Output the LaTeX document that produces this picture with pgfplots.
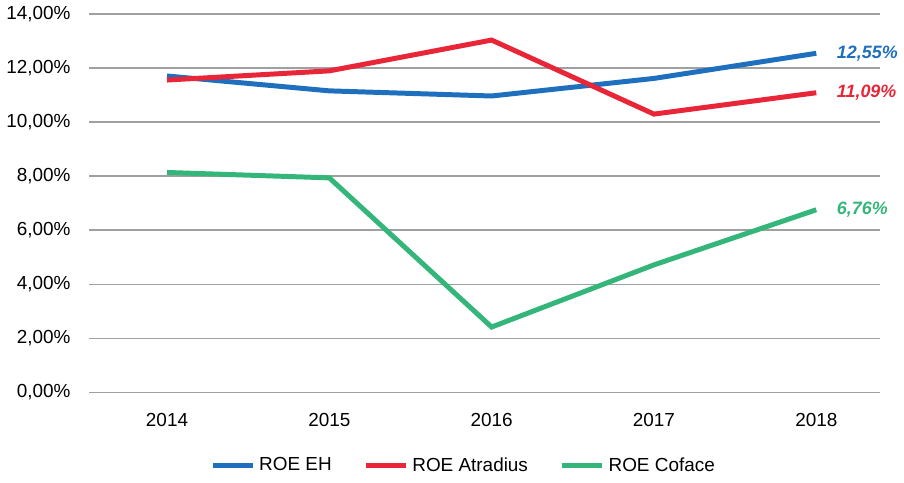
\documentclass[border=0pt]{standalone}
\usepackage{fontspec}
\setmainfont{Liberation Sans}
\usepackage{pgfplots}
\pgfplotsset{compat=1.18}
\definecolor{eh}{RGB}{30,112,190}
\definecolor{atr}{RGB}{232,38,56}
\definecolor{cof}{RGB}{52,182,122}
\definecolor{gridc}{RGB}{160,160,160}
\begin{document}
\fontsize{9.5pt}{11pt}\selectfont
\begin{tikzpicture}
\begin{axis}[
  scale only axis, width=397pt, height=190pt,
  xmin=2013.52, xmax=2018.39, ymin=0, ymax=14,
  axis line style={draw=none},
  xtick={2014,2015,2016,2017,2018},
  xticklabel style={/pgf/number format/1000 sep={}},
  ytick={0,2,...,14},
  yticklabel={\pgfmathprintnumber[fixed,fixed zerofill,precision=2,use comma]{\tick}\%},
  /pgf/number format/assume math mode=true,
  tick style={draw=none},
  ymajorgrids, grid style={gridc, line width=0.8pt},
  xticklabel style={yshift=-7pt},
  yticklabel style={xshift=-6pt},
  tick label style={font=\fontsize{9.5pt}{11pt}\selectfont},
  clip=false,
  legend style={at={(0.475,-0.15)}, anchor=north, draw=none, legend columns=3,
    font=\fontsize{9.5pt}{11pt}\selectfont,
    /tikz/every even column/.append style={column sep=14pt}},
  legend image code/.code={\draw[#1, line width=2.5pt] (0pt,0pt) -- (20pt,0pt);},
]
\addplot[eh, line width=2.5pt] coordinates {(2014,11.71)(2015,11.16)(2016,10.97)(2017,11.62)(2018,12.55)};
\addlegendentry{ROE EH}
\addplot[atr, line width=2.5pt] coordinates {(2014,11.56)(2015,11.90)(2016,13.04)(2017,10.30)(2018,11.09)};
\addlegendentry{ROE Atradius}
\addplot[cof, line width=2.5pt] coordinates {(2014,8.14)(2015,7.94)(2016,2.42)(2017,4.72)(2018,6.76)};
\addlegendentry{ROE Coface}
\node[anchor=west, text=eh, font=\bfseries\itshape\fontsize{9pt}{11pt}\selectfont, xshift=7pt] at (axis cs:2018,12.55) {12,55\%};
\node[anchor=west, text=atr, font=\bfseries\itshape\fontsize{9pt}{11pt}\selectfont, xshift=7pt] at (axis cs:2018,11.09) {11,09\%};
\node[anchor=west, text=cof, font=\bfseries\itshape\fontsize{9pt}{11pt}\selectfont, xshift=7pt] at (axis cs:2018,6.76) {6,76\%};
\end{axis}
\end{tikzpicture}
\end{document}
